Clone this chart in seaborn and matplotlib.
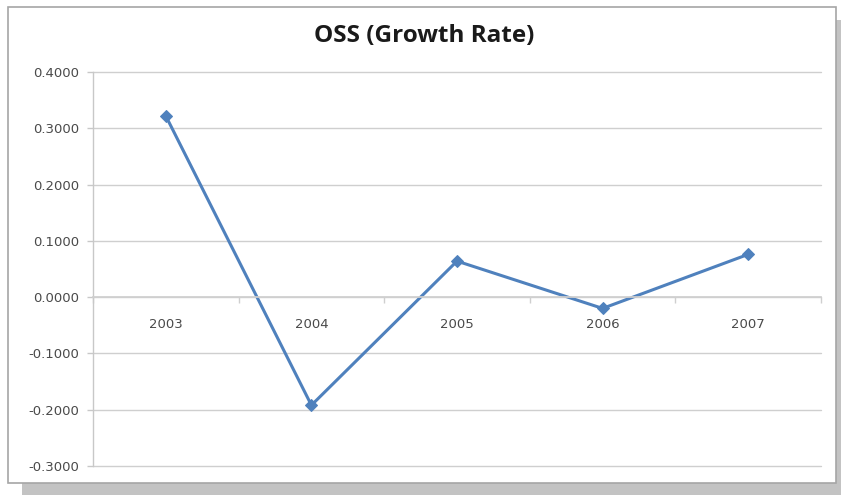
import matplotlib
matplotlib.use("Agg")
import matplotlib.pyplot as plt
from matplotlib.patches import Rectangle
from matplotlib.ticker import FixedLocator, FuncFormatter
import seaborn as sns
import pandas as pd

# Yearly OSS growth rate
years = ["2003", "2004", "2005", "2006", "2007"]
growth = [0.322, -0.192, 0.064, -0.020, 0.076]
y_ticks = [-0.3, -0.2, -0.1, 0.0, 0.1, 0.2, 0.3, 0.4]
title = "OSS (Growth Rate)"

df = pd.DataFrame({"year": years, "growth": growth})

sns.set_theme(style="white")
plt.rcParams["font.family"] = ["DejaVu Sans"]

W, H = 841, 495
fig = plt.figure(figsize=(W / 100, H / 100), dpi=100)
fig.patch.set_facecolor("white")


def px_rect(x0, y0, x1, y1, **kw):
    """Rectangle in figure pixel coordinates (origin top-left)."""
    return Rectangle((x0 / W, 1 - y1 / H), (x1 - x0) / W, (y1 - y0) / H,
                     transform=fig.transFigure, **kw)


# drop shadow and chart frame
fig.add_artist(px_rect(22, 20, 841, 495, facecolor="#c3c3c3", edgecolor="none", zorder=0))
fig.add_artist(px_rect(8, 7, 836, 483, facecolor="white", edgecolor="#a6a6a6",
                       linewidth=1.2, zorder=0.5))

ax = fig.add_axes([93 / W, 1 - 466 / H, (821 - 93) / W, (466 - 72) / H])
ax.set_facecolor("none")
ax.set_zorder(2)

sns.lineplot(data=df, x="year", y="growth", ax=ax, color="#4F81BD", linewidth=2.2,
             marker="D", markersize=6, markeredgecolor="#4F81BD", sort=False)

ax.set_xlim(-0.5, len(years) - 0.5)
ax.set_ylim(min(y_ticks), max(y_ticks))

# horizontal gridlines
ax.yaxis.set_major_locator(FixedLocator(y_ticks))
ax.yaxis.set_major_formatter(FuncFormatter(lambda v, p: f"{v:.4f}"))
ax.grid(axis="y", color="#cfcfcf", linewidth=1.0)
ax.grid(axis="x", visible=False)
ax.set_axisbelow(True)
for gl in ax.get_ygridlines():
    gl.set_clip_on(False)

# category axis crosses at zero
for s in ["top", "right"]:
    ax.spines[s].set_visible(False)
ax.spines["bottom"].set_position(("data", 0))
ax.spines["bottom"].set_color("#cfcfcf")
ax.spines["left"].set_color("#c8c8c8")
ax.spines["left"].set_linewidth(1.0)

ax.set_xticks(range(len(years)))
ax.set_xticklabels(years)
ax.set_xticks([i + 0.5 for i in range(-1, len(years))], minor=True)
ax.tick_params(axis="x", which="major", length=0, pad=15, labelsize=9.5, labelcolor="#4a4a4a")
ax.tick_params(axis="x", which="minor", bottom=True, length=4, width=1, color="#cfcfcf")
ax.tick_params(axis="y", left=True, length=4, width=1, color="#c8c8c8",
               pad=6, labelsize=9.5, labelcolor="#4a4a4a")

ax.set_xlabel("")
ax.set_ylabel("")

fig.text(424 / W, 1 - 36 / H, title, ha="center", va="center",
         fontsize=17.5, fontweight="bold", color="#1a1a1a", family=["Open Sans", "DejaVu Sans"])

fig.savefig("out.png", dpi=100)
